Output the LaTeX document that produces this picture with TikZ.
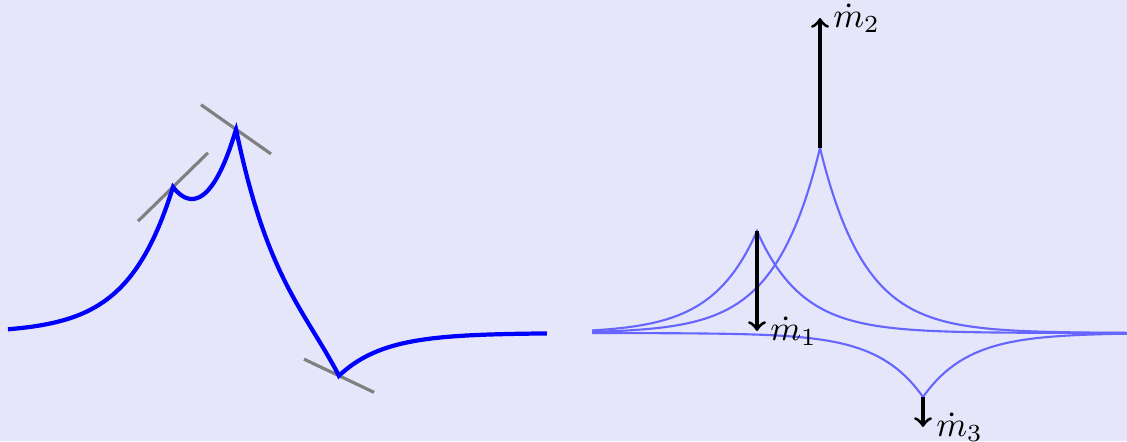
\documentclass[tikz,border=0pt]{standalone}
\definecolor{bgcol}{RGB}{230,230,250}

\begin{document}
\begin{tikzpicture}[
  profile/.style={blue, line width=1.2pt},
  peakon/.style={blue!60, line width=0.6pt},
  tangent/.style={gray, line width=0.9pt},
  mdot/.style={->, black, line width=0.9pt},
  declare function={pk(\t,\c,\h)=\h*exp(-abs(\t-\c)/0.45);
    u(\t)=pk(\t,1.73,1.02)+pk(\t,2.36,1.85)+pk(\t,3.39,-0.64);}
]
  \fill[bgcol] (0,-1.08) rectangle (11.27,3.33);
  \useasboundingbox (0,-1.08) rectangle (11.27,3.33);

  % left: the sum of the three peakons
  \coordinate (k1) at (1.73,{u(1.73)});
  \coordinate (k2) at (2.36,{u(2.36)});
  \coordinate (k3) at (3.39,{u(3.39)});
  \draw[tangent] (k1) +(-0.35,-0.342) -- +(0.35,0.342);
  \draw[tangent] (k2) +(-0.35,0.246) -- +(0.35,-0.246);
  \draw[tangent] (k3) +(-0.35,0.166) -- +(0.35,-0.166);
  \draw[profile] plot[domain=0.08:1.73, samples=80] (\x,{u(\x)})
    -- plot[domain=1.73:2.36, samples=40] (\x,{u(\x)})
    -- plot[domain=2.36:3.39, samples=60] (\x,{u(\x)})
    -- plot[domain=3.39:5.47, samples=80] (\x,{u(\x)});

  % right: each peakon on its own
  \draw[peakon] plot[domain=5.92:7.57, samples=80] (\x,{pk(\x,7.57,1.02)})
    -- plot[domain=7.57:11.27, samples=120] (\x,{pk(\x,7.57,1.02)});
  \draw[peakon] plot[domain=5.92:8.20, samples=100] (\x,{pk(\x,8.20,1.85)})
    -- plot[domain=8.20:11.27, samples=120] (\x,{pk(\x,8.20,1.85)});
  \draw[peakon] plot[domain=5.92:9.23, samples=120] (\x,{pk(\x,9.23,-0.64)})
    -- plot[domain=9.23:11.27, samples=80] (\x,{pk(\x,9.23,-0.64)});

  \coordinate (top1) at (7.57,1.02);
  \coordinate (tip1) at (7.57,0.02);
  \coordinate (top2) at (8.20,1.85);
  \coordinate (tip2) at (8.20,3.15);
  \coordinate (top3) at (9.23,-0.64);
  \coordinate (tip3) at (9.23,-0.94);
  \draw[mdot] (top1) -- (tip1) node[right] (lab1) {$\dot m_1$};
  \draw[mdot] (top2) -- (tip2) node[right] (lab2) {$\dot m_2$};
  \draw[mdot] (top3) -- (tip3) node[right] (lab3) {$\dot m_3$};
\end{tikzpicture}
\end{document}
